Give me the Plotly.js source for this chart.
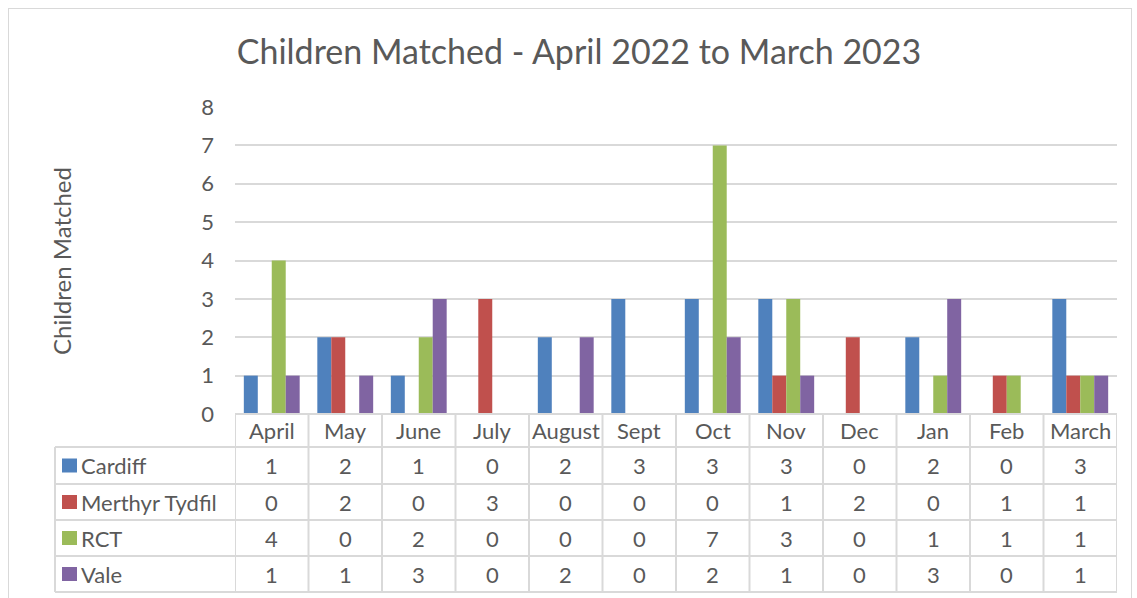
<!DOCTYPE html>
<html><head><meta charset="utf-8">
<script src="https://cdn.plot.ly/plotly-3.0.1.min.js"></script>
<style>
html,body{margin:0;padding:0;background:#fff;}
#wrap{position:relative;width:1137px;height:598px;overflow:hidden;}
#frame{position:absolute;left:8px;top:8px;width:1124px;height:600px;border:1.5px solid #d9d9d9;box-sizing:border-box;pointer-events:none;z-index:5;}
#chart{position:absolute;left:0;top:0;width:1137px;height:598px;}
</style></head>
<body><div id="wrap"><div id="chart"></div><div id="frame"></div></div>
<script>
const months = ["April","May","June","July","August","Sept","Oct","Nov","Dec","Jan","Feb","March"];
const seriesNames = ["Cardiff","Merthyr Tydfil","RCT","Vale"];
const cardiff  = [1,2,1,0,2,3,3,3,0,2,0,3];
const merthyr  = [0,2,0,3,0,0,0,1,2,0,1,1];
const rct      = [4,0,2,0,0,0,7,3,0,1,1,1];
const vale     = [1,1,3,0,2,0,2,1,0,3,0,1];
const colors   = ["#4f81bd","#c0504d","#9bbb59","#8064a2"];
const allSeries = [cardiff, merthyr, rct, vale];

const FONT = "Lato, 'Open Sans', sans-serif";
const TXT = "#595959";
const GRID = "#d9d9d9";

// plot geometry in pixels
const L = 235, R = 1117, T = 107, B = 414;
const PW = R - L, PH = B - T;
const px2x = p => (p - L) / PW;
const py2y = p => (B - p) / PH;

const traces = allSeries.map((vals, i) => ({
  type: "bar", name: seriesNames[i], x: months, y: vals,
  marker: {color: colors[i]}, hoverinfo: "x+y+name"
}));

const rowEdges = [414, 447, 484, 520, 556, 592];
const shapes = [];
const annotations = [];

// horizontal table lines
shapes.push({type:"line", xref:"paper", yref:"paper", x0:0, x1:1, y0:py2y(414), y1:py2y(414), line:{color:GRID,width:2}});
for (let k = 1; k < rowEdges.length; k++) {
  shapes.push({type:"line", xref:"paper", yref:"paper", x0:px2x(55), x1:1,
    y0:py2y(rowEdges[k]), y1:py2y(rowEdges[k]), line:{color:GRID,width:2}});
}
// vertical lines
shapes.push({type:"line", xref:"paper", yref:"paper", x0:px2x(55), x1:px2x(55), y0:py2y(447), y1:py2y(592), line:{color:GRID,width:2}});
for (let i = 0; i <= months.length; i++) {
  shapes.push({type:"line", xref:"x", yref:"paper", x0:i-0.5, x1:i-0.5, y0:py2y(414), y1:py2y(592), line:{color:GRID,width:2}});
}
// header month labels
months.forEach(m => annotations.push({xref:"x", yref:"paper", x:m, y:py2y((rowEdges[0]+rowEdges[1])/2),
  text:m, showarrow:false, font:{family:FONT,size:22,color:TXT}, xanchor:"center", yanchor:"middle"}));
// rows
allSeries.forEach((vals, r) => {
  const yc = py2y((rowEdges[r+1]+rowEdges[r+2])/2);
  shapes.push({type:"rect", xref:"paper", yref:"paper", x0:px2x(62), x1:px2x(77),
    y0:yc - 7/PH, y1:yc + 7/PH, fillcolor:colors[r], line:{width:0}});
  annotations.push({xref:"paper", yref:"paper", x:px2x(79), y:yc, text:seriesNames[r], showarrow:false,
    xanchor:"left", yanchor:"middle", font:{family:FONT,size:22,color:TXT}});
  vals.forEach((v, i) => annotations.push({xref:"x", yref:"paper", x:months[i], y:yc, text:String(v),
    showarrow:false, xanchor:"center", yanchor:"middle", font:{family:FONT,size:22,color:TXT}}));
});
// y-axis title
annotations.push({xref:"paper", yref:"paper", x:px2x(61), y:py2y(261), text:"Children Matched",
  textangle:-90, showarrow:false, xanchor:"center", yanchor:"middle", font:{family:FONT,size:24,color:TXT}});

const layout = {
  width:1137, height:598,
  margin:{l:L, r:1137-R, t:T, b:598-B, pad:0},
  paper_bgcolor:"#fff", plot_bgcolor:"#fff",
  showlegend:false,
  barmode:"group", bargap:0.24, bargroupgap:0,
  title:{text:"Children Matched - April 2022 to March 2023", xref:"container", yref:"container",
    x:579/1137, y:1-52/598, xanchor:"center", yanchor:"middle",
    font:{family:FONT,size:34,color:TXT}},
  xaxis:{showticklabels:false, showgrid:false, zeroline:false, showline:false, ticks:"",
    range:[-0.5, months.length-0.5], fixedrange:true},
  yaxis:{range:[0,8], dtick:1, showgrid:true, gridcolor:GRID, gridwidth:2, zeroline:false,
    showline:false, ticks:"", ticklabelstandoff:20,
    tickfont:{family:FONT,size:22,color:TXT}, fixedrange:true},
  shapes:shapes, annotations:annotations,
  font:{family:FONT,color:TXT}
};
Plotly.newPlot("chart", traces, layout, {displayModeBar:false, staticPlot:true});
</script></body></html>
